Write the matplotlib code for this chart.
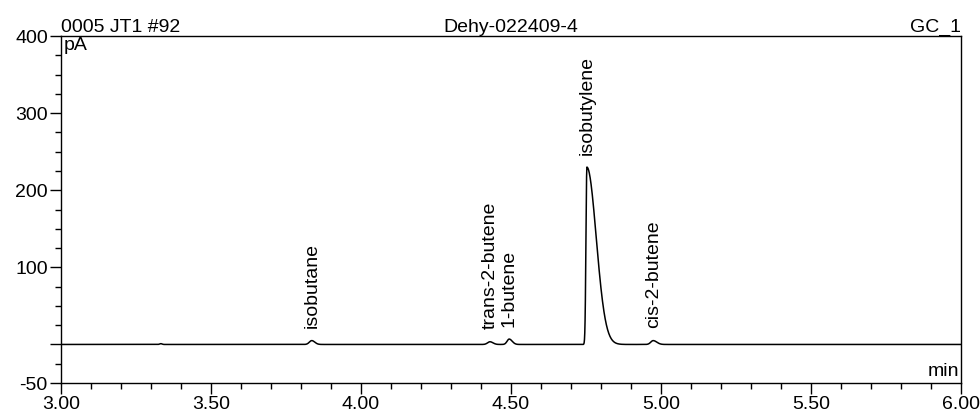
import numpy as np
import matplotlib
matplotlib.use("Agg")
import matplotlib.pyplot as plt
from matplotlib.ticker import FixedLocator, MultipleLocator, FuncFormatter

plt.rcParams['font.family'] = ['Liberation Sans', 'DejaVu Sans']

# peaks (retention time in min, height in pA)
peak_names = ['', 'isobutane', 'trans-2-butene', '1-butene', 'isobutylene', 'cis-2-butene']
peak_rt = [3.333, 3.836, 4.430, 4.494, 4.753, 4.974]
peak_height = [1.0, 5.0, 3.5, 7.0, 230.0, 5.0]
peak_sigma_left = [0.004, 0.008, 0.008, 0.007, 0.003, 0.008]
peak_sigma_right = [0.004, 0.010, 0.010, 0.010, 0.031, 0.012]

t = np.linspace(3.0, 6.0, 3001)
signal = np.zeros_like(t)
for rt, h, sl, sr in zip(peak_rt, peak_height, peak_sigma_left, peak_sigma_right):
    s = np.where(t < rt, sl, sr)
    signal += h * np.exp(-0.5 * ((t - rt) / s) ** 2)

fig = plt.figure(figsize=(9.8, 4.19), dpi=100)
ax = fig.add_axes([0.0622, 0.0859, 0.9184, 0.8281])
ax.plot(t, signal, color='black', lw=1.1)

ax.set_xlim(3.0, 6.0)
ax.set_ylim(-50, 400)

# x ticks
ax.xaxis.set_major_locator(MultipleLocator(0.5))
ax.xaxis.set_minor_locator(MultipleLocator(0.1))
ax.xaxis.set_major_formatter(FuncFormatter(lambda v, p: "%.2f" % v))
# y ticks, 0 has a tick but no label
ax.yaxis.set_major_locator(FixedLocator([-50, 0, 100, 200, 300, 400]))
ax.yaxis.set_minor_locator(MultipleLocator(25))
ax.yaxis.set_major_formatter(FuncFormatter(lambda v, p: "" if v == 0 else "%d" % v))

fs = 14
ax.tick_params(which='major', direction='out', length=8, width=1, labelsize=fs, pad=1.5)
ax.tick_params(which='minor', direction='out', length=4, width=1)
for sp in ax.spines.values():
    sp.set_linewidth(1)

# header
ax.set_title("0005 JT1 #92", loc='left', fontsize=fs, pad=3)
ax.set_title("Dehy-022409-4", loc='center', fontsize=fs, pad=3)
ax.set_title("GC_1", loc='right', fontsize=fs, pad=3)

ax.text(0.003, 0.998, "pA", transform=ax.transAxes, ha='left', va='top', fontsize=fs)
ax.text(0.998, 0.008, "min", transform=ax.transAxes, ha='right', va='bottom', fontsize=fs)

# peak labels
for name, rt, h in zip(peak_names, peak_rt, peak_height):
    if name:
        ax.annotate(name, (rt, h), xytext=(0, 9), textcoords='offset points',
                    rotation=90, ha='center', va='bottom', fontsize=fs)

fig.savefig('out.png', dpi=100)
